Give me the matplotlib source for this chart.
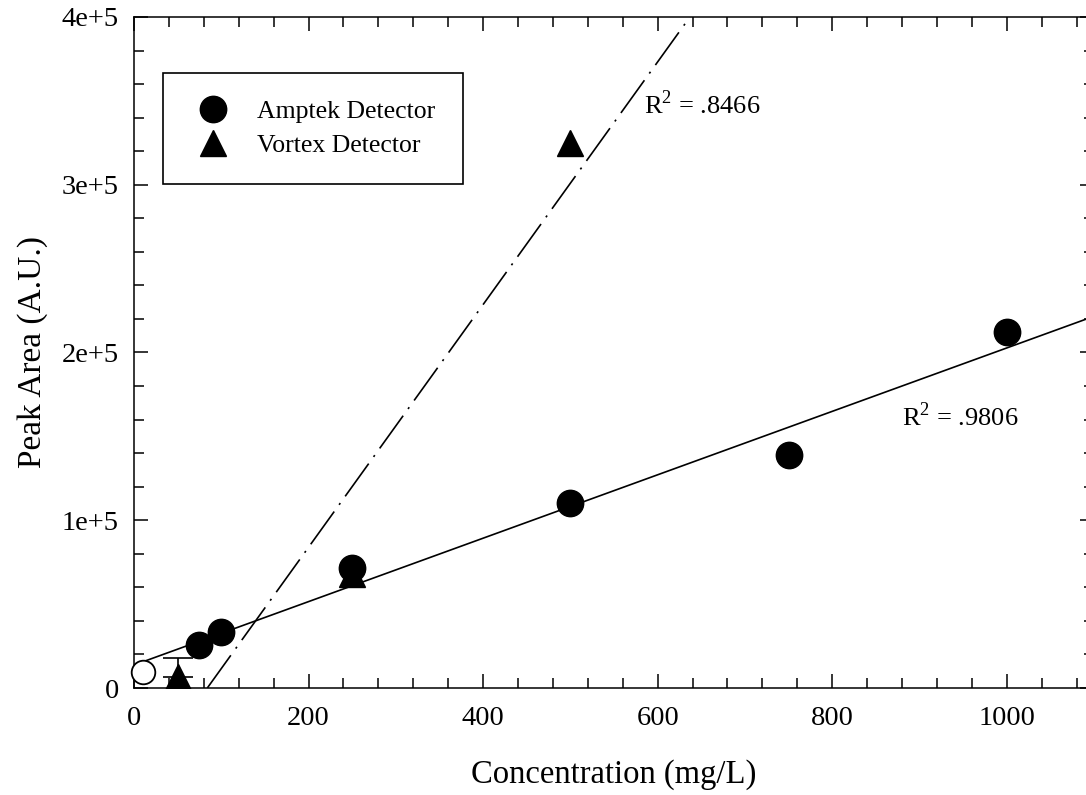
import matplotlib
matplotlib.use('Agg')
import matplotlib.pyplot as plt
from matplotlib.ticker import MultipleLocator, FuncFormatter

plt.rcParams['font.family'] = ['Liberation Serif', 'DejaVu Serif']
plt.rcParams['mathtext.fontset'] = 'custom'
plt.rcParams['mathtext.rm'] = 'Liberation Serif'
plt.rcParams['lines.scale_dashes'] = False

# data
amptek_x = [75, 100, 250, 500, 750, 1000]
amptek_y = [25600, 33600, 71500, 110300, 139000, 212000]
blank_x = [10]
blank_y = [9700]
vortex_x = [50, 250, 500]
vortex_y = [6600, 68000, 325000]
vortex_err_up = [11500, 0, 0]

# fitted lines (end points, data units)
amptek_fit_x = [0, 1100]
amptek_fit_y = [13700, 221600]
vortex_fit_x = [84, 637]
vortex_fit_y = [0, 400000]

fig = plt.figure(figsize=(10.86, 7.95), dpi=100)
ax = fig.add_axes([134 / 1086, 107 / 795, 960 / 1086, 671 / 795])

ax.plot(amptek_fit_x, amptek_fit_y, color='k', lw=1.2)
ax.plot(vortex_fit_x, vortex_fit_y, color='k', lw=1.2,
        linestyle=(0, (29, 6, 1.5, 6)))

# only points that carry an error bar
ex = [x for x, e in zip(vortex_x, vortex_err_up) if e > 0]
ey = [y for y, e in zip(vortex_y, vortex_err_up) if e > 0]
ee = [e for e in vortex_err_up if e > 0]
ax.errorbar(ex, ey, yerr=[[0] * len(ee), ee], fmt='none',
            ecolor='k', elinewidth=1.2, capsize=11, capthick=1.2)
ax.plot(vortex_x, vortex_y, '^', color='k', ms=19, ls='none',
        label='Vortex Detector', zorder=3)
ax.plot(amptek_x, amptek_y, 'o', color='k', ms=19, ls='none',
        label='Amptek Detector', zorder=4)
ax.plot(blank_x, blank_y, 'o', mfc='white', mec='k', mew=1.3, ms=17,
        ls='none', zorder=4, clip_on=False)

ax.text(584, 348000, 'R$^2$ = .8466', fontsize=19, va='center')
ax.text(880, 162000, 'R$^2$ = .9806', fontsize=19, va='center')

ax.set_xlim(0, 1100)
ax.set_ylim(0, 400000)
ax.xaxis.set_major_locator(MultipleLocator(200))
ax.xaxis.set_minor_locator(MultipleLocator(40))
ax.yaxis.set_major_locator(MultipleLocator(100000))
ax.yaxis.set_minor_locator(MultipleLocator(20000))
ax.yaxis.set_major_formatter(FuncFormatter(
    lambda v, p: '0' if v == 0 else '%de+5' % round(v / 100000)))
ax.tick_params(which='both', direction='in', top=True, right=True,
               width=1.1, labelsize=20.5)
ax.tick_params(which='major', length=10)
ax.tick_params(which='minor', length=7)
ax.tick_params(axis='x', pad=13)
ax.tick_params(axis='y', pad=11)
for s in ax.spines.values():
    s.set_linewidth(1.1)

ax.set_xlabel('Concentration (mg/L)', fontsize=23.5, labelpad=20)
ax.set_ylabel('Peak Area (A.U.)', fontsize=24, labelpad=10)

h, l = ax.get_legend_handles_labels()
leg = ax.legend(h[::-1], l[::-1], loc='upper left',
                bbox_to_anchor=(29 / 960, 1 - 56 / 671), fontsize=18.5,
                fancybox=False, edgecolor='k', framealpha=1,
                borderpad=1.05, labelspacing=0.42, handlelength=1.8,
                handletextpad=0.82, borderaxespad=0)
leg.get_frame().set_linewidth(1.2)

fig.savefig('out.png', dpi=100)
